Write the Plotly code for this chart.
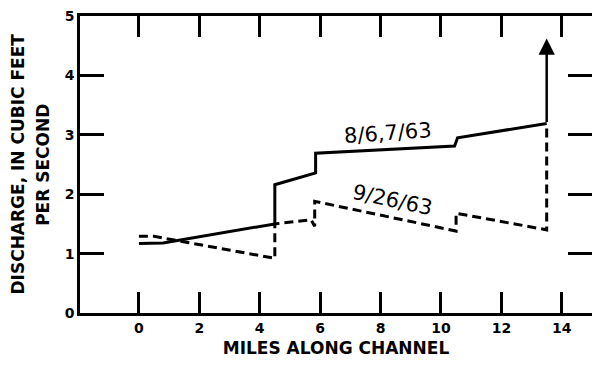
import plotly.graph_objects as go

# Data
solid_x = [0, 0.8, 4.5, 4.5, 5.85, 5.85, 10.45, 10.55, 13.5]
solid_y = [1.17, 1.18, 1.5, 2.16, 2.36, 2.69, 2.81, 2.95, 3.19]
arrow_tip_y = 4.62

dash_x = [0, 0.5, 4.5, 4.5, 5.7, 5.82, 5.82, 10.5, 10.5, 13.5, 13.5]
dash_y = [1.29, 1.29, 0.92, 1.5, 1.57, 1.46, 1.88, 1.38, 1.68, 1.40, 3.19]

x_ticks = [0, 2, 4, 6, 8, 10, 12, 14]
y_ticks = [0, 1, 2, 3, 4, 5]

label_solid = "8/6,7/63"
label_dash = "9/26/63"
y_title_lines = ["DISCHARGE, IN CUBIC FEET", "PER SECOND"]
x_title = "MILES ALONG CHANNEL"

fig = go.Figure()
fig.add_trace(go.Scatter(x=solid_x, y=solid_y, mode="lines",
                         line=dict(color="black", width=3), showlegend=False))
fig.add_trace(go.Scatter(x=dash_x, y=dash_y, mode="lines",
                         line=dict(color="black", width=3, dash="9px,5px"), showlegend=False))

# arrow continuing the solid line
fig.add_annotation(x=solid_x[-1], y=arrow_tip_y, ax=solid_x[-1], ay=solid_y[-1],
                   xref="x", yref="y", axref="x", ayref="y", text="",
                   showarrow=True, arrowhead=2, arrowsize=1.3, arrowwidth=2.5,
                   arrowcolor="black")

fig.add_annotation(x=8.26, y=3.03, xref="x", yref="y", text=label_solid, showarrow=False,
                   textangle=-4, font=dict(family="DejaVu Sans", size=21, color="black"))
fig.add_annotation(x=8.39, y=1.90, xref="x", yref="y", text=label_dash, showarrow=False,
                   textangle=12, font=dict(family="DejaVu Sans", size=21, color="black"))

title_font = dict(family="DejaVu Sans", size=17, color="black", weight="bold")
for txt, px in zip(y_title_lines, [-0.123, -0.0735]):
    fig.add_annotation(x=px, y=0.5, xref="paper", yref="paper", text=txt, showarrow=False,
                       textangle=-90, xanchor="center", yanchor="middle", font=title_font)

axis_common = dict(showgrid=False, zeroline=False, showline=True, linecolor="black",
                   linewidth=2.5, mirror="allticks", ticks="inside", tickcolor="black",
                   tickwidth=2.5, automargin=False,
                   tickfont=dict(family="DejaVu Sans", size=14, color="black", weight="bold"))

fig.update_xaxes(range=[-1.95, 15.0], tickvals=x_ticks, ticktext=[str(v) for v in x_ticks],
                 ticklen=21,
                 title=dict(text=x_title, standoff=8, font=title_font),
                 **axis_common)
fig.update_yaxes(range=[0, 5], tickvals=y_ticks, ticktext=[str(v) for v in y_ticks],
                 ticklen=24, **axis_common)

fig.update_layout(width=592, height=365, margin=dict(l=80, r=0, t=16, b=52),
                  plot_bgcolor="white", paper_bgcolor="white")

fig.write_html("out.html", config={"displayModeBar": False},
               post_script="document.body.style.margin='0px';")
